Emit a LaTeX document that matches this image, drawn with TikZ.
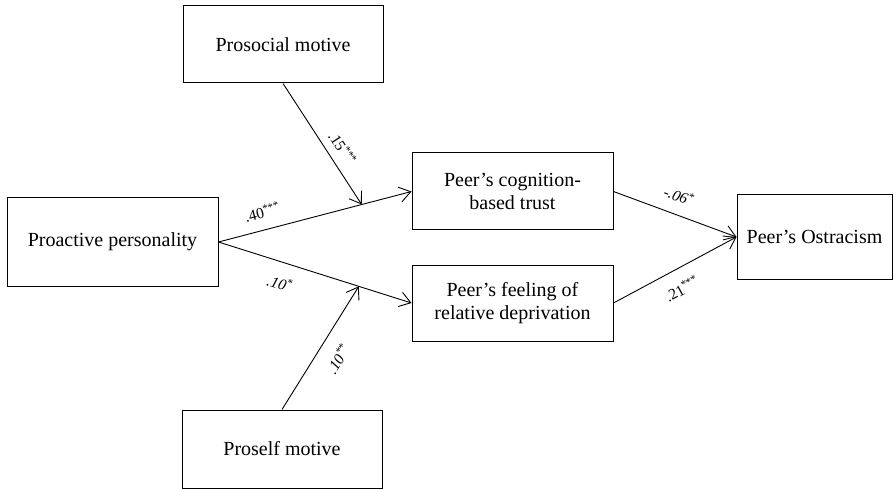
\documentclass[tikz,border=0pt]{standalone}
\usepackage{fontspec}
\setmainfont{Liberation Serif}
\usetikzlibrary{arrows.meta}
\tikzset{
  box/.style={draw=black, line width=1pt, align=center, inner sep=0pt,
    font=\fontsize{20}{23}\selectfont},
  conn/.style={line width=0.9pt, -{Straight Barb[length=11pt,width=15pt,line width=0.9pt]}},
  coef/.style={font=\fontsize{15.5}{17}\selectfont, sloped, inner sep=2pt},
}
\begin{document}
\begin{tikzpicture}[x=1pt,y=-1pt]
\useasboundingbox (0,0) rectangle (894,489);
\node[box, minimum width=211pt, minimum height=88pt] (pp) at (112.5,242) {Proactive personality};
\node[box, minimum width=200pt, minimum height=77pt] (pros) at (283,44.5) {Prosocial motive};
\node[box, minimum width=200pt, minimum height=78pt] (self) at (282,449) {Proself motive};
\node[box, minimum width=201pt, minimum height=77pt] (cog) at (512.5,191.5) {Peer’s cognition-\\based trust};
\node[box, minimum width=201pt, minimum height=76pt] (dep) at (512.5,303) {Peer’s feeling of\\relative deprivation};
\node[box, minimum width=155pt, minimum height=84pt] (ost) at (814.5,237) {Peer’s Ostracism};

\draw[conn] (pp.east) -- node[coef, pos=0.25, above=9pt] {.40\textsuperscript{***}} coordinate[pos=0.742] (m1) (cog.west);
\draw[conn] (pp.east) -- node[coef, pos=0.35, below=12pt] {\itshape .10\textsuperscript{*}} coordinate[pos=0.727] (m2) (dep.west);
\draw[conn] (pros.south) -- node[coef, pos=0.6, above=6pt] {.15\textsuperscript{***}} (m1);
\draw[conn] (self.north) -- node[coef, pos=0.5, below=12pt] {\itshape .10\textsuperscript{**}} (m2);
\draw[conn] (cog.east) -- node[coef, pos=0.48, above=10pt] {\itshape -.06\textsuperscript{*}} (ost.west);
\draw[conn] (dep.east) -- node[coef, pos=0.48, below=11pt] {.21\textsuperscript{***}} (ost.west);
\end{tikzpicture}
\end{document}
